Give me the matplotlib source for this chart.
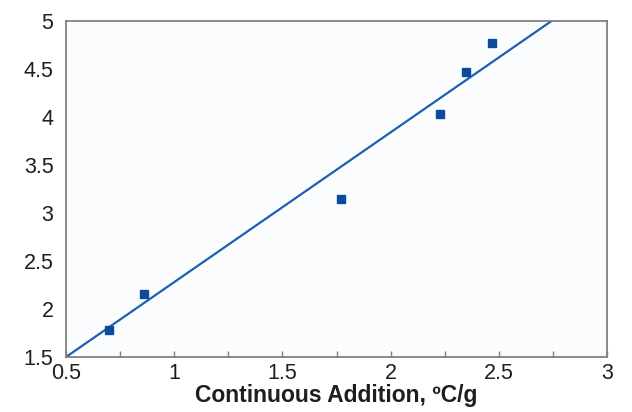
import matplotlib
matplotlib.use("Agg")
import matplotlib.pyplot as plt
import numpy as np
from matplotlib.ticker import MultipleLocator

plt.rcParams['font.family'] = ['Liberation Sans', 'DejaVu Sans']

x_data = [0.70, 0.86, 1.77, 2.23, 2.35, 2.47]
y_data = [1.78, 2.16, 3.15, 4.03, 4.47, 4.77]
fit_slope = 1.56
fit_intercept = 0.72
fit_x = [0.5, 2.744]

fig = plt.figure(figsize=(6.32, 4.12), dpi=100)
fig.patch.set_facecolor('white')
ax = fig.add_axes([66/632, 1 - 357/412, 541/632, 336/412])
ax.set_facecolor('#fbfcfe')

fx = np.array(fit_x)
ax.plot(fx, fit_slope * fx + fit_intercept, color='#1d5fb3', lw=1.6, zorder=2)
ax.plot(x_data, y_data, 's', color='#0c4a9c', markersize=6.2, zorder=3, clip_on=False)

ax.set_xlim(0.5, 3)
ax.set_ylim(1.5, 5)
ax.xaxis.set_minor_locator(MultipleLocator(0.25))
ax.set_xticks([0.5, 1, 1.5, 2, 2.5, 3])
ax.set_xticklabels(['0.5', '1', '1.5', '2', '2.5', '3'])
ax.set_yticks([1.5, 2, 2.5, 3, 3.5, 4, 4.5, 5])
ax.set_yticklabels(['1.5', '2', '2.5', '3', '3.5', '4', '4.5', '5'])

ax.tick_params(axis='x', which='both', direction='in', length=4, width=1, color='#808080',
               labelsize=15.5, pad=4, top=False, labelcolor='#1e1e1e')
ax.tick_params(axis='y', which='both', length=0, labelsize=15.5, pad=9, right=False,
               labelcolor='#1e1e1e')
for s in ax.spines.values():
    s.set_color('#808080')
    s.set_linewidth(1.3)

ax.set_xlabel('Continuous Addition, ºC/g', fontsize=16.5, fontweight='bold', labelpad=0,
              color='#1e1e1e')

fig.savefig('out.png', dpi=100)
